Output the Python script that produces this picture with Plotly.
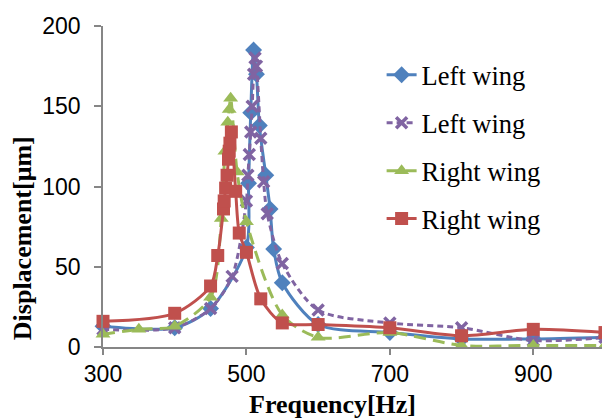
import plotly.graph_objects as go

# ---- data ----
lw1_freq = [300, 400, 450, 500, 503, 506, 510, 514, 518, 527, 533, 538, 550, 600, 700, 800, 900, 1000]
lw1_disp = [13, 12, 24, 62, 102, 146, 185, 170, 138, 107, 86, 61, 40, 14, 9, 5, 5, 6]

lw2_freq = [300, 400, 450, 480, 500, 502, 504, 506, 508, 510, 512, 514, 520, 524, 529, 550, 600, 700, 800, 900, 1000]
lw2_disp = [11, 12, 24, 44, 91, 107, 120, 134, 150, 170, 180, 175, 130, 103, 83, 52, 23, 15, 12, 4, 6]

rw1_freq = [300, 350, 400, 450, 465, 470, 474, 476, 478, 487, 500, 550, 600, 700, 800, 900, 1000]
rw1_disp = [8, 11, 13, 31, 80, 122, 140, 148, 155, 109, 78, 20, 6, 9, 1, 1, 1]

rw2_freq = [300, 400, 450, 460, 468, 469, 471, 473, 475, 476, 477, 479, 485, 490, 500, 520, 550, 600, 700, 800, 900, 1000]
rw2_disp = [16, 21, 38, 57, 86, 91, 99, 107, 117, 122, 127, 134, 97, 71, 59, 30, 15, 14, 12, 7, 11, 9]

names = ["Left wing", "Left wing", "Right wing", "Right wing"]
x_ticks = [300, 500, 700, 900]
y_ticks = [0, 50, 100, 150, 200]

BLUE = "#4F81BD"
PURPLE = "#8064A2"
GREEN = "#9BBB59"
RED = "#C0504D"

fig = go.Figure()

series = [
    (lw1_freq, lw1_disp, names[0], BLUE, "solid", "diamond", 13),
    (lw2_freq, lw2_disp, names[1], PURPLE, "6px,4px", "x-thin-open", 11),
    (rw1_freq, rw1_disp, names[2], GREEN, "12px,7px", "triangle-up", 13),
    (rw2_freq, rw2_disp, names[3], RED, "solid", "square", 13),
]

for i, (fx, fy, nm, col, dash, sym, sz) in enumerate(series):
    marker = dict(symbol=sym, size=sz, color=col)
    if sym == "x-thin-open":
        marker["line"] = dict(color=col, width=3.5)
    fig.add_trace(go.Scatter(
        x=fx, y=fy, name=nm, mode="lines+markers",
        line=dict(color=col, width=3, dash=dash, shape="spline", smoothing=0.8),
        marker=marker, cliponaxis=False, legendgroup=f"g{i}",
    ))

# the page body has an 8px margin, so the figure is drawn 8px smaller
fig.update_layout(
    width=602, height=411,
    margin=dict(l=95, r=5, t=15, b=72),
    paper_bgcolor="white", plot_bgcolor="white",
    showlegend=True,
    legend=dict(x=0.555, y=0.922, xanchor="left", yanchor="top",
                font=dict(family="Liberation Serif", size=26.5, color="black"),
                tracegroupgap=10.5, bgcolor="rgba(0,0,0,0)"),
    xaxis=dict(range=[300, 1000], tickvals=x_ticks, showgrid=False, zeroline=False,
               showline=True, linecolor="#868686", linewidth=1.5,
               ticks="outside", ticklen=6, tickcolor="#868686", tickwidth=1.5,
               tickfont=dict(family="Liberation Sans", size=23, color="black")),
    yaxis=dict(range=[0, 200], tickvals=y_ticks, showgrid=False, zeroline=False,
               showline=True, linecolor="#868686", linewidth=1.5,
               ticks="outside", ticklen=7, tickcolor="#868686", tickwidth=1.5,
               ticklabelstandoff=9,
               tickfont=dict(family="Liberation Sans", size=23, color="black")),
    annotations=[
        dict(text="<b>Displacement[μm]</b>", xref="paper", yref="paper",
             x=-0.160, y=0.338, textangle=-90, showarrow=False,
             xanchor="center", yanchor="middle",
             font=dict(family="Liberation Serif", size=26, color="black")),
        dict(text="<b>Frequency[Hz]</b>", xref="paper", yref="paper",
             x=0.4565, y=-0.179, showarrow=False,
             xanchor="center", yanchor="middle",
             font=dict(family="Liberation Serif", size=26, color="black")),
    ],
)

fig.write_html("out.html")
